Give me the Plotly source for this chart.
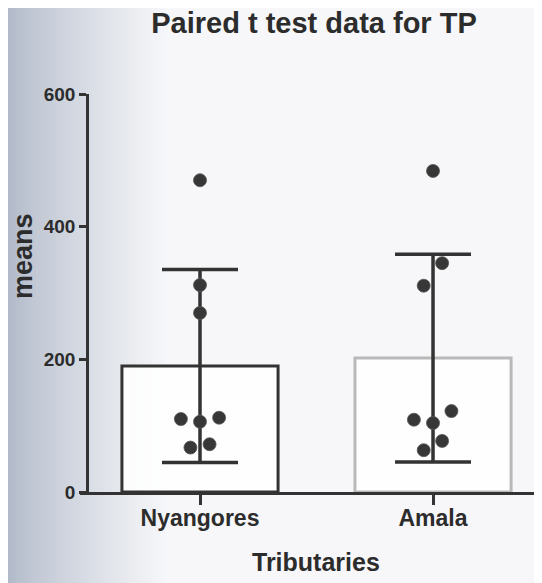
import numpy as np
import plotly.graph_objects as go

# ---- data ----
categories = ["Nyangores", "Amala"]
nyangores_values = [470, 312, 270, 110, 106, 112, 67, 72]
amala_values = [484, 345, 311, 122, 109, 104, 77, 63]
nyangores_jitter = [0, 0, 0, -0.082, 0, 0.082, -0.041, 0.041]
amala_jitter = [0, 0.039, -0.040, 0.079, -0.082, 0, 0.039, -0.040]
y_ticks = [0, 200, 400, 600]

series = [nyangores_values, amala_values]
jitters = [nyangores_jitter, amala_jitter]
means = [float(np.mean(v)) for v in series]
sds = [float(np.std(v, ddof=1)) for v in series]
xpos = list(range(len(categories)))

INK = "#333333"
TXT = "#2c2c2c"
W, H = 542, 583
L, R, T, B = 72, 0, 86, 99
pw = W - L - R
ph = H - T - B

fig = go.Figure()

# bars (outline only)
fig.add_trace(go.Bar(
    x=xpos, y=means, width=0.67,
    marker=dict(color="rgba(255,255,255,0.85)",
                line=dict(color=[INK, "#b9b9b9"], width=3)),
    hoverinfo="skip", showlegend=False,
))
# SD error bars
fig.add_trace(go.Scatter(
    x=xpos, y=means, mode="markers",
    marker=dict(size=1, color="rgba(0,0,0,0)"),
    error_y=dict(type="data", array=sds, visible=True,
                 color=INK, thickness=3.5, width=38),
    hoverinfo="skip", showlegend=False,
))
# individual points
for i, (vals, jit) in enumerate(zip(series, jitters)):
    fig.add_trace(go.Scatter(
        x=[i + j for j in jit], y=vals, mode="markers",
        marker=dict(size=13, color="#373737",
                    line=dict(color="#555555", width=0.8)),
        showlegend=False,
    ))

# scanned-paper shading on the left edge
shapes = []
n = 40
c0 = np.array([0xb2, 0xba, 0xc9])
c1 = np.array([0xf6, 0xf7, 0xf9])
for k in range(n):
    x0 = k * 4
    t = (k / (n - 1)) ** 0.8
    c = (c0 * (1 - t) + c1 * t).astype(int)
    shapes.append(dict(type="rect", xref="paper", yref="paper",
                       x0=(x0 - L) / pw, x1=(x0 + 4.5 - L) / pw,
                       y0=-0.4, y1=1.4, line=dict(width=0),
                       fillcolor=f"rgb({c[0]},{c[1]},{c[2]})", layer="below"))

FONT = "Liberation Sans, Arial, sans-serif"

fig.update_layout(
    width=W, height=H,
    margin=dict(l=L, r=R, t=T, b=B, pad=0),
    paper_bgcolor="#f7f7f9",
    plot_bgcolor="rgba(0,0,0,0)",
    shapes=shapes,
    font=dict(family=FONT, color=TXT),
    title=dict(text="<b>Paired t test data for TP</b>", x=306 / W, xanchor="center",
               y=1 - 15 / H, yanchor="middle", xref="container", yref="container",
               font=dict(size=29, family=FONT, color=TXT)),
    xaxis=dict(range=[-0.515, 1.502], tickvals=xpos,
               ticktext=[f"<b>{c}</b>" for c in categories],
               showgrid=False, zeroline=False, showline=True,
               linecolor=INK, linewidth=2.5, ticks="outside", ticklen=10,
               tickwidth=2.5, tickcolor=INK, ticklabelstandoff=-6,
               tickfont=dict(size=23, family=FONT, color=TXT)),
    yaxis=dict(range=[0, 600], tickvals=y_ticks,
               ticktext=[f"<b>{v}</b>" for v in y_ticks],
               showgrid=False, zeroline=False,
               showline=True, linecolor=INK, linewidth=2.5, ticks="outside",
               ticklen=7, tickwidth=2.5, tickcolor=INK,
               anchor="free", position=7 / pw,
               tickfont=dict(size=19, family=FONT, color=TXT)),
    annotations=[
        dict(text="<b>means</b>", xref="paper", yref="paper", x=(15 - L) / pw,
             y=(484 - 248) / ph, textangle=-90, showarrow=False,
             xanchor="center", yanchor="middle",
             font=dict(size=27, family=FONT, color=TXT)),
        dict(text="<b>Tributaries</b>", xref="paper", yref="paper", x=(308 - L) / pw,
             y=(484 - 554) / ph, showarrow=False, xanchor="center",
             yanchor="middle",
             font=dict(size=25, family=FONT, color=TXT)),
    ],
)

fig.write_html("out.html")
